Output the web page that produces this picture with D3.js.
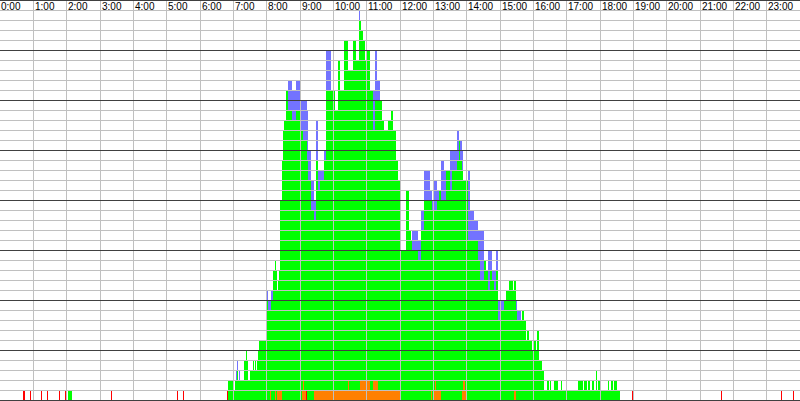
<!DOCTYPE html>
<html>
<head>
<meta charset="utf-8">
<script src="https://cdn.jsdelivr.net/npm/d3@7"></script>
<style>
html,body{margin:0;padding:0;background:#fff;overflow:hidden;}
svg{display:block;}
</style>
</head>
<body>
<script>
// Hour tick labels
const hourLabels = ["0:00","1:00","2:00","3:00","4:00","5:00","6:00","7:00","8:00","9:00","10:00","11:00","12:00","13:00","14:00","15:00","16:00","17:00","18:00","19:00","20:00","21:00","22:00","23:00"];

// Start of each interval (minutes since midnight); each lasts until the next start
const times = [
0,41,45,54,56,74,76,85,86,106,108,117,119,122,130,200,202,319,320,329,331,
409,410,419,423,425,427,428,430,432,439,443,445,446,450,455,457,459,461,463,464,466,
479,482,486,488,491,495,497,499,500,502,504,508,509,511,515,518,526,533,540,544,545,547,551,553,554,560,
565,569,572,576,583,587,596,603,608,612,619,626,628,635,641,646,648,650,653,657,661,666,
671,675,679,680,684,688,691,698,704,707,713,716,720,722,731,736,740,742,752,758,763,774,
776,778,781,783,785,787,790,794,799,803,810,814,823,826,828,832,833,837,839,842,846,853,
860,864,871,875,878,882,886,889,893,896,900,907,911,916,923,925,929,931,938,940,943,947,
949,952,958,959,965,967,970,976,979,985,988,990,992,997,1004,1010,1012,1040,1049,1051,1057,
1058,1062,1066,1069,1073,1075,1076,1080,1094,1096,1100,1103,1105,1111,1116,1138,1139,1298,1300,1406,1408,1427,1429];

// Counts per interval (stacked bottom to top: red, orange, green, blue)
const red = [
0,1,0,1,0,1,0,1,0,1,0,1,0,0,0,1,0,1,0,1,0,
1,0,0,0,0,0,0,0,0,0,0,0,0,0,0,0,0,0,0,0,0,
0,0,0,0,0,0,0,0,0,0,0,0,0,0,0,0,0,0,0,0,0,0,1,0,0,0,
0,0,0,0,0,0,0,0,0,0,0,0,0,0,0,0,0,0,0,0,0,0,
0,0,0,0,0,0,0,0,0,0,0,0,0,0,0,0,0,0,0,0,0,0,
0,0,0,0,0,0,0,0,0,0,0,0,0,0,0,0,0,0,0,0,0,0,
0,0,0,0,0,0,0,0,0,0,0,0,0,0,0,0,0,0,0,0,0,0,
0,0,0,0,0,0,0,0,0,0,0,0,0,0,0,0,0,0,0,0,0,
0,0,0,0,0,0,0,0,0,0,0,0,0,0,0,1,0,1,0,1,0,1,0];

const orange = [
0,0,0,0,0,0,0,0,0,0,0,0,0,0,0,0,0,0,0,0,0,
0,0,0,0,0,0,0,0,0,0,0,0,0,0,0,0,0,0,0,0,0,
0,0,1,0,0,1,0,1,1,1,1,0,0,0,0,0,0,0,0,1,2,1,0,0,0,0,
1,1,1,1,1,1,1,1,1,1,1,2,1,1,1,1,2,2,2,2,2,1,
2,2,2,1,1,1,1,1,1,1,1,1,0,0,0,0,0,0,0,0,0,0,
1,0,1,2,1,1,1,0,0,0,0,0,0,0,0,1,2,1,0,0,0,0,
0,0,0,0,0,0,0,0,0,0,0,0,0,0,0,1,0,0,0,0,0,0,
0,0,0,0,0,0,0,0,0,0,0,0,0,0,0,0,0,0,0,0,0,
0,0,0,0,0,0,0,0,0,0,0,0,0,0,0,0,0,0,0,0,0,0,0];

const green = [
0,0,0,0,0,0,0,0,0,0,0,0,0,1,0,0,0,0,0,0,0,
0,2,1,2,2,3,2,2,2,4,5,4,2,3,4,3,4,3,4,5,6,
10,9,8,10,13,13,13,10,11,12,19,24,27,28,31,29,28,29,27,26,24,25,25,24,22,19,
17,23,20,21,23,30,30,28,33,30,35,31,32,35,33,37,36,35,34,32,33,30,
25,28,28,29,29,27,26,27,28,26,23,21,21,15,21,17,16,15,14,17,20,20,
19,19,18,17,18,19,20,20,20,23,21,23,24,26,24,22,20,21,22,16,16,16,
14,12,14,13,11,13,12,11,13,8,9,10,11,12,11,11,9,8,8,9,8,6,
7,6,5,6,5,7,4,3,1,2,1,2,1,2,1,2,1,2,1,2,1,
2,1,2,1,3,1,2,1,2,1,2,1,2,1,0,0,0,0,0,0,0,0,0];

const blue = [
0,0,0,0,0,0,0,0,0,0,0,0,0,0,0,0,0,0,0,0,0,
0,0,0,0,1,1,0,1,0,0,0,0,0,0,0,0,0,0,0,0,0,
1,1,1,1,0,0,0,0,0,0,0,0,0,0,0,3,3,3,3,3,4,4,4,5,3,3,
2,4,2,1,1,4,0,0,0,0,0,0,0,0,0,1,0,0,0,0,0,0,
4,5,2,2,0,0,0,0,0,0,0,0,0,0,0,0,0,2,2,2,3,1,
1,1,3,3,3,1,0,4,3,0,4,2,3,0,2,2,0,0,0,7,3,2,
3,5,0,0,4,2,1,2,2,2,1,0,0,0,0,0,1,1,0,0,0,0,
0,0,0,0,0,0,0,0,0,0,0,0,0,0,0,0,0,0,0,0,0,
0,0,0,0,0,0,0,0,0,0,0,0,0,0,0,0,0,0,0,0,0,0,0];

const W = 800, H = 401;
const svg = d3.select("body").append("svg").attr("width", W).attr("height", H)
  .attr("shape-rendering", "crispEdges");

const x = d3.scaleLinear().domain([0, 1440]).range([0, 800]);
const y = d3.scaleLinear().domain([0, 40]).range([400, 0]);

const colors = {red: "#ff0000", orange: "#ff8000", green: "#00ff00", blue: "#7373ff"};

// Build stacked segments
const segs = [];
times.forEach((t, i) => {
  const t1 = i + 1 < times.length ? times[i + 1] : 1440;
  const x0 = Math.round(x(t)), x1 = Math.round(x(t1));
  const w = Math.max(1, x1 - x0);
  let base = 0;
  [["red", red[i]], ["orange", orange[i]], ["green", green[i]], ["blue", blue[i]]].forEach(([k, v]) => {
    if (v > 0) {
      segs.push({x: x0, w: w, y0: base, y1: base + v, c: colors[k]});
      base += v;
    }
  });
});

svg.append("g").selectAll("rect").data(segs).join("rect")
  .attr("x", d => d.x).attr("width", d => d.w)
  .attr("y", d => y(d.y1)).attr("height", d => y(d.y0) - y(d.y1))
  .attr("fill", d => d.c);

// Grid
const grid = svg.append("g");
const vHours = d3.range(1, 24);
grid.selectAll("rect.v").data(vHours).join("rect").attr("class", "v")
  .attr("x", h => Math.floor(x(h * 60))).attr("y", 0).attr("width", 1).attr("height", 401)
  .attr("fill", "#c0c0c0");
const hLevels = d3.range(0, 41);
grid.selectAll("rect.h").data(hLevels).join("rect").attr("class", "h")
  .attr("x", 0).attr("width", 800).attr("y", v => Math.round(y(v))).attr("height", 1)
  .attr("fill", v => v % 5 === 0 ? "#404040" : "#c0c0c0");

// Hour labels
svg.append("g").selectAll("text").data(hourLabels).join("text")
  .attr("x", (d, i) => Math.floor(x(i * 60)) + (i === 0 ? 1 : 2))
  .attr("y", 9.5)
  .attr("font-family", "Liberation Sans, Arial, sans-serif")
  .attr("font-size", "10px")
  .attr("fill", "#000")
  .text(d => d);
</script>
</body>
</html>
